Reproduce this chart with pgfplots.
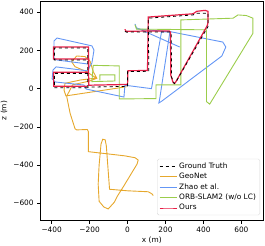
\documentclass[border=0pt]{standalone}
\usepackage{pgfplots}
\pgfplotsset{compat=1.18}
\usepackage{fontspec}
\setmainfont{DejaVu Sans}
\definecolor{cgeo}{RGB}{230,168,45}
\definecolor{czhao}{RGB}{100,150,245}
\definecolor{corb}{RGB}{155,205,75}
\definecolor{cours}{RGB}{232,30,70}
\begin{document}
\begin{tikzpicture}
\begin{axis}[
  scale only axis,
  width=222.3pt, height=219pt,
  xmin=-458, xmax=714, ymin=-688, ymax=459,
  xtick={-400,-200,0,200,400,600},
  xticklabels={−400,−200,0,200,400,600},
  ytick={-600,-400,-200,0,200,400},
  yticklabels={−600,−400,−200,0,200,400},
  tick align=outside, xtick pos=left, ytick pos=left,
  major tick length=3.5pt,
  tick style={black, line width=0.6pt},
  axis line style={line width=0.6pt},
  ticklabel style={font=\fontsize{7.4}{8}\selectfont},
  label style={font=\fontsize{7.4}{8}\selectfont},
  xlabel={x (m)}, ylabel={z (m)},
  xlabel style={yshift=3pt},
  ylabel style={yshift=-1pt},
  legend style={at={(rel axis cs:0.987,0.022)}, anchor=south east,
    draw=black!15, rounded corners=1.5pt, font=\fontsize{7.4}{8}\selectfont,
    row sep=-0.6pt, inner xsep=2pt, inner ysep=1.5pt, fill=white, fill opacity=0.9, text opacity=1},
  legend cell align=left,
]
\addlegendimage{black, dashed, line width=0.8pt}
\addlegendentry{Ground Truth}
\addlegendimage{cgeo, line width=0.9pt}
\addlegendentry{GeoNet}
\addlegendimage{czhao, line width=0.9pt}
\addlegendentry{Zhao et al.}
\addlegendimage{corb, line width=0.9pt}
\addlegendentry{ORB-SLAM2 (w/o LC)}
\addlegendimage{cours, line width=0.9pt}
\addlegendentry{Ours}

% GeoNet
\addplot[cgeo, line width=0.9pt, forget plot] coordinates {
(-5,10) (-325,-38) (-335,-8) (-330,28) (-250,45) (-163,56) (-181,89) (-198,145) (-225,168) (-268,171) (-295,141) (-277,115) (-216,89) (-163,54) (-200,40) (-290,20) (-321,-40) (-303,-129) (-277,-210) (-268,-216) (-212,-214) (-207,-225) (-207,-330) (-14,-352) (40,-362) (56,-374) (50,-395) (-20,-510) (-55,-565) (-70,-595) (-102,-630) (-125,-620) (-150,-590) (-155,-500) (-150,-400) (-140,-290) (-131,-265) (-118,-268) (-112,-300) (-95,-527) (0,-535) (109,-540) (130,-552) (135,-560)
};
% Zhao et al.
\addplot[czhao, line width=0.9pt, forget plot] coordinates {
(39,339) (49,313) (170,302) (233,297) (502,244) (518,218) (497,171) (181,-65) (165,-75) (170,-49) (223,297) (179,297) (126,0) (-14,18) (-19,-44) (-219,-2) (-230,19) (-382,35) (-398,51) (-393,98) (-377,114) (-209,93) (-198,119) (-188,134) (-177,202) (-188,224) (-372,265) (-388,250) (-388,160) (-372,150) (-209,129)
};
\addplot[czhao, line width=0.9pt, forget plot] coordinates {
(49,318) (275,218)
};
% ORB-SLAM2
\addplot[corb, line width=0.9pt, forget plot] coordinates {
(39,335) (47,312) (416,308) (416,-68) (433,-81) (661,290) (661,369) (626,383) (582,386) (556,369) (281,360) (281,20) (150,20) (150,-52) (-44,-54) (-44,119) (-181,122) (-188,37) (-67,40) (-67,72) (-146,72) (-146,45)
};
% Ours
\addplot[cours, line width=1.2pt, forget plot] coordinates {
(-14,311) (-8,300) (112,302) (220,302) (226,296) (228,70) (240,32) (248,28) (254,35) (420,330) (424,345) (424,405) (408,410) (365,405) (345,392) (109,375) (105,95) (2,94) (0,22) (-205,18) (-206,218) (-391,218) (-391,155) (-204,155) (-206,86) (-391,86) (-389,12) (-215,13)
};
% Ground truth
\addplot[black, dashed, line width=0.8pt, forget plot] coordinates {
(-14,300) (-5,296) (112,297) (223,297) (230,290) (232,60) (246,26) (252,30) (424,325) (424,395) (363,395) (345,386) (109,369) (112,91) (0,89) (0,12) (-210,8) (-210,213) (-386,213) (-386,150) (-210,150) (-210,80) (-386,80) (-386,5) (-210,5)
};
\end{axis}
\path (current axis.south west) ++(-40.7pt,-25pt) coordinate (bl);
\path (current axis.north east) ++(2pt,1pt) coordinate (tr);
\pgfresetboundingbox
\path (bl) rectangle (tr);
\end{tikzpicture}
\end{document}
